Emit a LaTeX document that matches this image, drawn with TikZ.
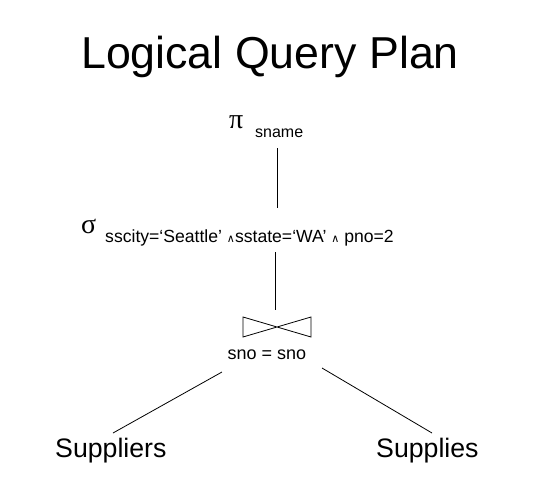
\documentclass[tikz,border=0pt]{standalone}
\usepackage{fontspec}
\setmainfont{Liberation Sans}
\newfontfamily\greekfont{Liberation Serif}
\newfontfamily\symfont{DejaVu Sans}
\newcommand{\andsym}{{\symfont\fontsize{11}{12}\selectfont ∧}}
\begin{document}
\begin{tikzpicture}[x=1pt,y=1pt,
  lbl/.style={inner sep=0pt, font=\fontsize{16}{18}\selectfont},
  rel/.style={inner sep=0pt, font=\fontsize{26.7}{30}\selectfont},
  greek/.style={inner sep=0pt, font=\fontsize{28}{30}\greekfont},
  edge/.style={line width=0.8pt}]
\useasboundingbox (0,0) rectangle (558,-483);
\node[inner sep=0pt, font=\fontsize{44.7}{50}\selectfont] (title) at (270,-57) {Logical Query Plan};
\node[greek, anchor=base west] (pi) at (229,-128) {π};
\node[lbl, anchor=base west] (pisub) at (255,-137) {sname};
\coordinate (p1) at (277,-148);
\coordinate (p2) at (277,-208);
\draw[edge] (p1) -- (p2);
\node[greek, anchor=base west] (sigma) at (81,-233) {σ};
\node[lbl, anchor=base west, font=\fontsize{17.6}{20}\selectfont] (sigsub) at (105,-242) {sscity=‘Seattle’ \andsym sstate=‘WA’ \andsym\ pno=2};
\coordinate (s1) at (275,-252);
\coordinate (s2) at (275,-310);
\draw[edge] (s1) -- (s2);
\draw[edge] (243,-317) -- (243,-337) -- (311,-317) -- (311,-337) -- cycle;
\node[lbl, anchor=base, font=\fontsize{18}{20}\selectfont] (cond) at (267,-359) {sno = sno};
\coordinate (l1) at (222,-372);
\coordinate (l2) at (113,-433);
\coordinate (r1) at (322,-368);
\coordinate (r2) at (432,-433);
\draw[edge] (l1) -- (l2);
\draw[edge] (r1) -- (r2);
\node[rel, anchor=base west] (suppliers) at (55,-457) {Suppliers};
\node[rel, anchor=base west] (supplies) at (376,-457) {Supplies};
\end{tikzpicture}
\end{document}
